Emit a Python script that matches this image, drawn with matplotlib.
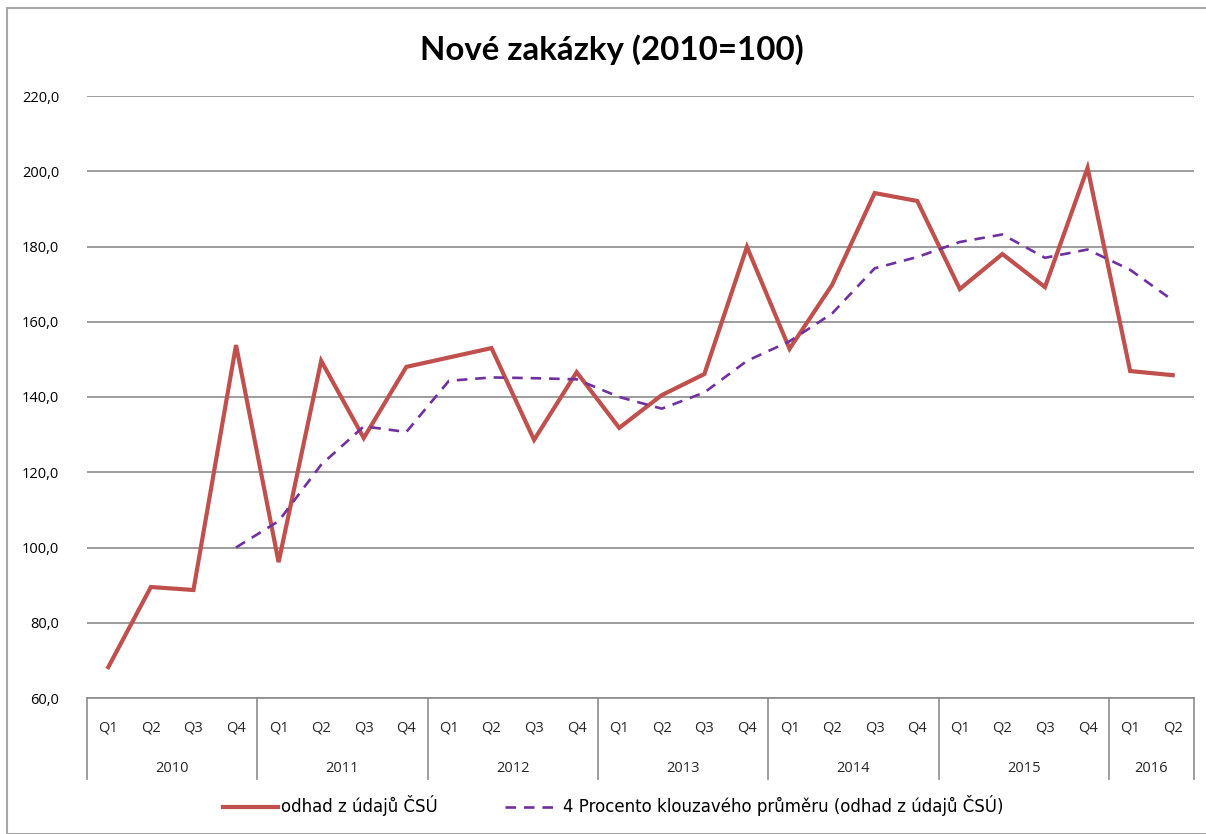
import matplotlib.pyplot as plt
import matplotlib.transforms as mtransforms
from matplotlib.lines import Line2D
from matplotlib.patches import Rectangle

# values
years = ["2010", "2011", "2012", "2013", "2014", "2015", "2016"]
quarters_per_year = [4, 4, 4, 4, 4, 4, 2]
odhad = [68.2, 89.5, 88.7, 153.8, 96.1, 149.6, 129.1, 148.0, 150.5, 153.0,
         128.6, 146.6, 131.8, 140.5, 146.1, 179.9, 152.8, 169.8, 194.2, 192.1,
         168.7, 178.0, 169.2, 200.9, 146.9, 145.8]
# 4-period moving average, starts at 2010 Q4
klouzavy = [None, None, None, 100.0, 107.0, 122.0, 132.2, 130.7, 144.3, 145.2,
            145.0, 144.7, 140.0, 136.9, 141.2, 149.6, 154.8, 162.2, 174.2, 177.2,
            181.2, 183.2, 177.0, 179.2, 173.8, 165.7]
y_ticks = [60, 80, 100, 120, 140, 160, 180, 200, 220]

title = "Nové zakázky (2010=100)"
label_odhad = "odhad z údajů ČSÚ"
label_ma = "4 Procento klouzavého průměru (odhad z údajů ČSÚ)"

RED = "#C0504D"
PURPLE = "#7030A0"
GRID = "#8c8c8c"

plt.rcParams["font.family"] = ["Open Sans", "DejaVu Sans"]

W, H = 1206, 834
fig = plt.figure(figsize=(W / 100, H / 100), dpi=100)

# outer chart border
fig.patches.append(Rectangle((7 / W, 0), 1, 1 - 8 / H, transform=fig.transFigure,
                             fill=False, ec="#a6a6a6", lw=1.5))

left, right, top, bottom = 87, 1194, 96, 698
ax = fig.add_axes([left / W, 1 - bottom / H, (right - left) / W, (bottom - top) / H])

x = list(range(len(odhad)))
ma_x = [i for i, v in zip(x, klouzavy) if v is not None]
ma_y = [v for v in klouzavy if v is not None]

ax.plot(x, odhad, color=RED, lw=3.0, solid_joinstyle="miter", zorder=3)
ax.plot(ma_x, ma_y, color=PURPLE, lw=1.9, ls=(0, (4, 3)), zorder=4)

ax.set_xlim(-0.5, len(odhad) - 0.5)
ax.set_ylim(60, 220)
ax.set_yticks(y_ticks)
ax.set_yticklabels([f"{v:.1f}".replace(".", ",") for v in y_ticks], fontsize=10.5)
ax.tick_params(axis="y", length=0, pad=20)
ax.set_xticks([])
ax.grid(axis="y", color=GRID, lw=1.2)
ax.set_axisbelow(True)
for side in ["left", "right", "top"]:
    ax.spines[side].set_visible(False)
ax.spines["bottom"].set_color(GRID)
ax.spines["bottom"].set_linewidth(1.2)

# category axis: quarters and years
trans = mtransforms.blended_transform_factory(ax.transData, ax.transAxes)
sep_bottom = -(779 - bottom) / (bottom - top)
q_y = -(728 - bottom) / (bottom - top)
yr_y = -(768 - bottom) / (bottom - top)

pos = 0
ax.plot([-0.5, -0.5], [0, sep_bottom], transform=trans, color=GRID, lw=1.2, clip_on=False)
for year, n in zip(years, quarters_per_year):
    for q in range(n):
        ax.text(pos + q, q_y, f"Q{q + 1}", transform=trans, ha="center", va="center",
                fontsize=10.5, color="#262626")
    ax.text(pos + (n - 1) / 2, yr_y, year, transform=trans, ha="center", va="center",
            fontsize=10.5, color="#262626")
    pos += n
    ax.plot([pos - 0.5, pos - 0.5], [0, sep_bottom], transform=trans, color=GRID,
            lw=1.2, clip_on=False)

fig.text(612 / W, 1 - 50 / H, title, ha="center", va="center", fontsize=23.8,
         fontweight="bold", family=["Lato", "DejaVu Sans"])

handles = [Line2D([], [], color=RED, lw=3.0),
           Line2D([], [], color=PURPLE, lw=1.9, ls=(0, (4, 3)))]
fig.legend(handles, [label_odhad, label_ma], loc="center left", ncol=2,
           bbox_to_anchor=(223 / W, 1 - 806 / H), frameon=False,
           prop={"family": ["DejaVu Sans"], "size": 12},
           borderpad=0, borderaxespad=0,
           handlelength=3.3, handletextpad=0.2, columnspacing=4.0)

fig.savefig("out.png", dpi=100)
